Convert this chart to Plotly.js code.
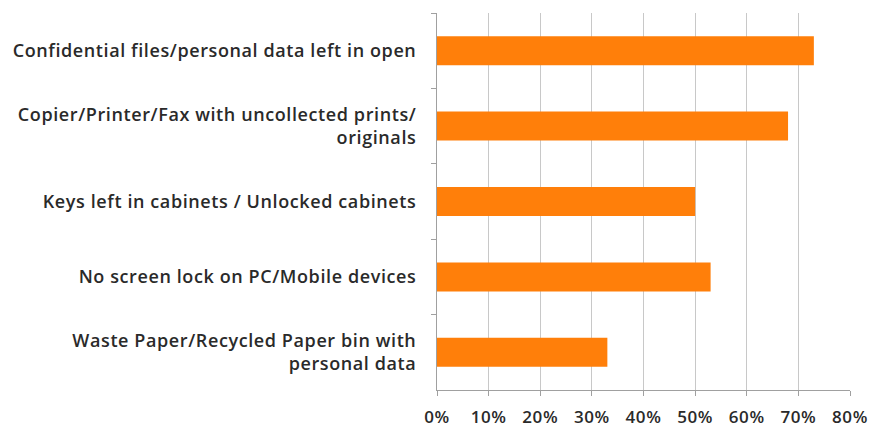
<!DOCTYPE html>
<html>
<head>
<meta charset="utf-8">
<script src="https://cdn.plot.ly/plotly-3.0.1.min.js"></script>
<style>
html,body{margin:0;padding:0;background:#fff;}
#chart{width:882px;height:432px;}
#chart .ytick text, #chart .xtick text{letter-spacing:0.6px;}
</style>
</head>
<body>
<div id="chart"></div>
<script>
var categories = [
  "Confidential files/personal data left in open",
  "Copier/Printer/Fax with uncollected prints/<br>originals",
  "Keys left in cabinets / Unlocked cabinets",
  "No screen lock on PC/Mobile devices",
  "Waste Paper/Recycled Paper bin with<br>personal data"
];
var values = [0.73, 0.68, 0.50, 0.53, 0.33];
var tickVals = [0, 0.1, 0.2, 0.3, 0.4, 0.5, 0.6, 0.7, 0.8];
var tickLabels = ["0%", "10%", "20%", "30%", "40%", "50%", "60%", "70%", "80%"];

var trace = {
  type: "bar",
  orientation: "h",
  x: values,
  y: categories,
  marker: {color: "#FF7F0A"},
  hoverinfo: "none"
};

var layout = {
  width: 882, height: 432,
  margin: {l: 437, r: 32, t: 13, b: 42},
  paper_bgcolor: "#ffffff",
  plot_bgcolor: "#ffffff",
  bargap: 0.615,
  showlegend: false,
  font: {family: "Open Sans, Lato, sans-serif", size: 18, color: "#2a2a2a", weight: 600},
  xaxis: {
    range: [0, 0.8],
    tickvals: tickVals,
    ticktext: tickLabels,
    showgrid: true,
    gridcolor: "#c8c8c8",
    gridwidth: 1,
    zeroline: false,
    showline: true,
    linecolor: "#a0a0a0",
    ticks: "outside",
    ticklen: 5,
    tickcolor: "#a0a0a0",
    ticklabelstandoff: 7,
    tickfont: {size: 17, color: "#2a2a2a", weight: 600}
  },
  yaxis: {
    autorange: "reversed",
    showgrid: false,
    zeroline: false,
    showline: true,
    linecolor: "#a0a0a0",
    ticks: "outside",
    tickson: "boundaries",
    ticklen: 5,
    tickcolor: "#a0a0a0",
    ticklabelstandoff: 16,
    tickfont: {size: 18, color: "#2a2a2a", weight: 600}
  }
};

Plotly.newPlot("chart", [trace], layout, {displayModeBar: false, staticPlot: true});
</script>
</body>
</html>
